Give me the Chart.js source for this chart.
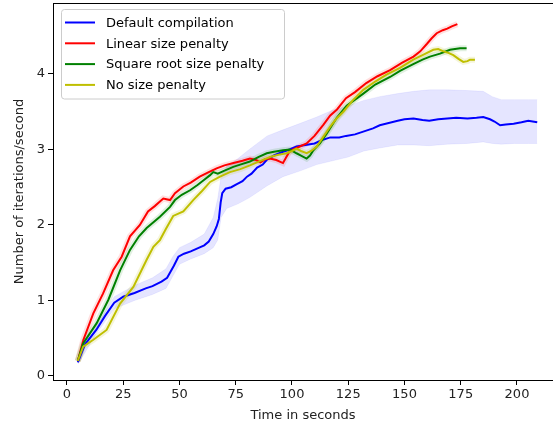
<!DOCTYPE html>
<html>
<head>
<meta charset="utf-8">
<script src="https://cdn.jsdelivr.net/npm/chart.js@4.4.0/dist/chart.umd.min.js"></script>
<style>
  html, body { margin: 0; padding: 0; background: #fff; overflow: hidden; }
  #wrap { width: 553px; height: 426px; }
</style>
</head>
<body>
<div id="wrap"><canvas id="chart" width="553" height="426"></canvas></div>
<script>
// --- data ---
const seriesNames = ['Default compilation', 'Linear size penalty', 'Square root size penalty', 'No size penalty'];
const seriesColors = ['#0000ff', '#ff0000', '#008000', '#bfbf00'];

const xTicks = [0, 25, 50, 75, 100, 125, 150, 175, 200];
const yTicks = [0, 1, 2, 3, 4];

const blueT = [4.8, 8, 13, 17, 21, 25, 30, 35, 38, 42, 44.5, 46, 47.5, 49.5, 52, 55, 58, 61, 63, 65, 66.5, 67.5, 68.3, 69, 70.5, 73, 75.5, 78, 80, 82, 84.5, 87, 89, 92, 96, 99, 102, 106, 110, 113, 117, 121, 124, 128, 132, 136, 139, 143, 147, 150, 154, 158, 161, 165, 169, 173, 178, 182, 185, 188, 190, 192.5, 195, 198.5, 202, 205, 209];
const blueV = [0.18, 0.42, 0.61, 0.80, 0.97, 1.05, 1.10, 1.16, 1.19, 1.25, 1.30, 1.38, 1.46, 1.58, 1.62, 1.65, 1.69, 1.73, 1.78, 1.88, 1.98, 2.08, 2.30, 2.42, 2.48, 2.50, 2.54, 2.58, 2.64, 2.68, 2.76, 2.80, 2.87, 2.92, 2.97, 3.00, 3.04, 3.06, 3.08, 3.12, 3.16, 3.16, 3.18, 3.20, 3.24, 3.28, 3.32, 3.35, 3.38, 3.40, 3.41, 3.39, 3.38, 3.40, 3.41, 3.42, 3.41, 3.42, 3.43, 3.40, 3.37, 3.32, 3.33, 3.34, 3.36, 3.38, 3.36];

// spread around the default compilation curve
const bandT = [5, 13, 21, 30, 38, 44, 47, 50, 55, 61, 65, 67, 68.5, 71, 76, 81, 89, 96, 104, 111, 118, 125, 132, 139, 147, 154, 161, 169, 178, 185, 189, 193, 199, 205, 209];
const bandUpper = [0.22, 0.66, 1.05, 1.20, 1.30, 1.42, 1.58, 1.70, 1.77, 1.88, 2.10, 2.35, 2.65, 2.78, 2.88, 3.00, 3.18, 3.26, 3.35, 3.43, 3.52, 3.58, 3.65, 3.70, 3.74, 3.77, 3.79, 3.79, 3.78, 3.77, 3.70, 3.66, 3.66, 3.66, 3.66];
const bandLower = [0.16, 0.56, 0.89, 1.00, 1.08, 1.16, 1.32, 1.48, 1.55, 1.62, 1.70, 1.80, 2.10, 2.22, 2.28, 2.36, 2.52, 2.64, 2.72, 2.80, 2.85, 2.90, 2.98, 3.02, 3.06, 3.06, 3.05, 3.07, 3.08, 3.10, 3.08, 3.07, 3.08, 3.08, 3.08];

const redT = [4.8, 7.3, 11.7, 16, 20.5, 24.3, 28, 32.4, 36, 39, 42.8, 45.8, 48, 51.7, 55, 59, 63, 66.5, 70, 74, 78, 81.3, 84, 86, 88, 90.2, 93, 96, 97.5, 99, 102, 106.5, 110, 114, 117, 120, 124, 128, 133, 138, 143.6, 149, 154, 157, 160, 162, 164.3, 167, 169, 171, 173.5];
const redV = [0.2, 0.48, 0.83, 1.09, 1.40, 1.58, 1.85, 2.00, 2.18, 2.25, 2.35, 2.33, 2.42, 2.51, 2.56, 2.64, 2.70, 2.75, 2.79, 2.82, 2.85, 2.88, 2.86, 2.83, 2.87, 2.88, 2.86, 2.82, 2.90, 2.98, 3.02, 3.08, 3.18, 3.33, 3.45, 3.53, 3.68, 3.76, 3.88, 3.97, 4.05, 4.15, 4.23, 4.30, 4.40, 4.47, 4.54, 4.58, 4.60, 4.63, 4.66];

const greenT = [4.8, 7.2, 13.2, 18.4, 23.6, 28, 32, 35.4, 41.3, 45.8, 48, 51, 54.7, 58, 61, 63.6, 65, 67, 70, 73.9, 77, 81.3, 85, 88.8, 92, 96, 99, 102, 104, 106.5, 108, 109.5, 112.4, 115.4, 119.9, 124.3, 128, 131.7, 137, 143.6, 148, 153.9, 158, 161.3, 165.8, 170.2, 174.7, 177.6];
const greenV = [0.2, 0.43, 0.70, 1.01, 1.40, 1.67, 1.85, 1.96, 2.11, 2.24, 2.33, 2.40, 2.46, 2.53, 2.60, 2.66, 2.70, 2.68, 2.72, 2.77, 2.80, 2.84, 2.90, 2.95, 2.97, 2.99, 3.00, 2.95, 2.92, 2.88, 2.92, 2.99, 3.08, 3.21, 3.42, 3.58, 3.66, 3.74, 3.86, 3.96, 4.04, 4.13, 4.19, 4.23, 4.27, 4.32, 4.34, 4.34];

const yellowT = [4.8, 7.2, 11.7, 17.6, 23.6, 29.5, 35.4, 38.4, 41.3, 44, 47.2, 51.7, 56.1, 60, 63.6, 68, 72.4, 77, 81.3, 86, 90.2, 94, 97.6, 100, 102, 104, 106.5, 108.5, 111, 113.5, 116.9, 119.5, 122.8, 127, 131.7, 137, 142, 148, 153.9, 158, 162.8, 165, 167.3, 169.5, 171.7, 174, 176.1, 178, 179.1, 181.3];
const yellowV = [0.2, 0.39, 0.48, 0.61, 0.96, 1.18, 1.54, 1.71, 1.80, 1.95, 2.12, 2.18, 2.33, 2.45, 2.57, 2.64, 2.70, 2.74, 2.79, 2.85, 2.90, 2.93, 2.95, 2.98, 3.01, 2.98, 2.95, 2.98, 3.04, 3.15, 3.30, 3.40, 3.50, 3.65, 3.79, 3.90, 3.99, 4.08, 4.19, 4.25, 4.32, 4.33, 4.30, 4.28, 4.25, 4.20, 4.16, 4.17, 4.19, 4.19];

function toPoints(xs, ys) {
    return xs.map((x, i) => ({ x: x, y: ys[i] }));
}

// faint halo under the three penalty curves (their narrow spread)
function halo(xs, ys, rgba, order) {
    return {
        data: toPoints(xs, ys),
        borderColor: rgba,
        borderWidth: 6,
        pointRadius: 0,
        tension: 0,
        fill: false,
        order: order
    };
}

function line(idx, xs, ys, order) {
    return {
        label: seriesNames[idx],
        data: toPoints(xs, ys),
        borderColor: seriesColors[idx],
        borderWidth: 2,
        pointRadius: 0,
        tension: 0,
        fill: false,
        order: order
    };
}

const datasets = [
    line(3, yellowT, yellowV, 0),
    line(2, greenT, greenV, 1),
    line(1, redT, redV, 2),
    line(0, blueT, blueV, 3),
    halo(yellowT, yellowV, 'rgba(191,191,0,0.15)', 4),
    halo(greenT, greenV, 'rgba(0,128,0,0.12)', 5),
    halo(redT, redV, 'rgba(255,0,0,0.12)', 6),
    {
        data: toPoints(bandT, bandUpper),
        borderColor: 'rgba(0,0,255,0.06)',
        borderWidth: 1,
        backgroundColor: 'rgba(0,0,255,0.1)',
        pointRadius: 0,
        tension: 0,
        fill: { target: 8 },
        order: 7
    },
    {
        data: toPoints(bandT, bandLower),
        borderColor: 'rgba(0,0,255,0.06)',
        borderWidth: 1,
        pointRadius: 0,
        tension: 0,
        fill: false,
        order: 8
    }
];

// top spine + legend box inside the plot (matplotlib style)
const framePlugin = {
    id: 'frame',
    afterDraw(chart) {
        const ctx = chart.ctx;
        const a = chart.chartArea;
        ctx.save();
        ctx.strokeStyle = '#000';
        ctx.lineWidth = 1;
        ctx.beginPath();
        ctx.moveTo(a.left, a.top + 0.5);
        ctx.lineTo(a.right, a.top + 0.5);
        ctx.stroke();

        // legend
        const bx = 61, by = 9.5, bw = 223, bh = 89.5, r = 3;
        ctx.fillStyle = 'rgba(255,255,255,0.8)';
        ctx.strokeStyle = '#cccccc';
        ctx.beginPath();
        ctx.roundRect(bx + 0.5, by, bw, bh, r);
        ctx.fill();
        ctx.stroke();

        ctx.font = '13px "DejaVu Sans"';
        ctx.textBaseline = 'middle';
        ctx.textAlign = 'left';
        const rows = [22.5, 43.3, 64.1, 84.9];
        seriesNames.forEach((name, i) => {
            ctx.strokeStyle = seriesColors[i];
            ctx.lineWidth = 2;
            ctx.beginPath();
            ctx.moveTo(65, rows[i]);
            ctx.lineTo(95, rows[i]);
            ctx.stroke();
            ctx.fillStyle = '#000';
            ctx.fillText(name, 106, rows[i] + 1);
        });
        ctx.restore();
    }
};

new Chart(document.getElementById('chart'), {
    type: 'line',
    data: { datasets: datasets },
    options: {
        responsive: false,
        animation: false,
        layout: { padding: { top: 3, right: 0, left: 0, bottom: 0 } },
        plugins: {
            legend: { display: false },
            tooltip: { enabled: false }
        },
        scales: {
            x: {
                type: 'linear',
                min: -6.22,
                max: 216,
                afterBuildTicks: scale => { scale.ticks = xTicks.map(v => ({ value: v })); },
                afterFit: scale => {
                    scale.height = 46;
                    scale.paddingLeft = 0;
                    scale.paddingRight = 0;
                },
                grid: { drawOnChartArea: false, drawTicks: true, tickLength: 5, color: '#000' },
                border: { display: true, color: '#000', width: 1 },
                ticks: { color: '#222', font: { family: 'DejaVu Sans', size: 13 }, padding: 2, maxRotation: 0 },
                title: {
                    display: true,
                    text: 'Time in seconds',
                    color: '#222',
                    font: { family: 'DejaVu Sans', size: 13 },
                    padding: { top: 2, bottom: 3 }
                }
            },
            y: {
                type: 'linear',
                min: -0.053,
                max: 4.94,
                afterBuildTicks: scale => { scale.ticks = yTicks.map(v => ({ value: v })); },
                afterFit: scale => {
                    scale.width = 53;
                    scale.paddingTop = 0;
                    scale.paddingBottom = 0;
                },
                grid: { drawOnChartArea: false, drawTicks: true, tickLength: 5, color: '#000' },
                border: { display: true, color: '#000', width: 1 },
                ticks: { color: '#222', font: { family: 'DejaVu Sans', size: 13 }, padding: 3 },
                title: {
                    display: true,
                    text: 'Number of iterations/second',
                    color: '#222',
                    font: { family: 'DejaVu Sans', size: 13 },
                    padding: { top: 12, bottom: 4 }
                }
            }
        }
    },
    plugins: [framePlugin]
});
</script>
</body>
</html>
